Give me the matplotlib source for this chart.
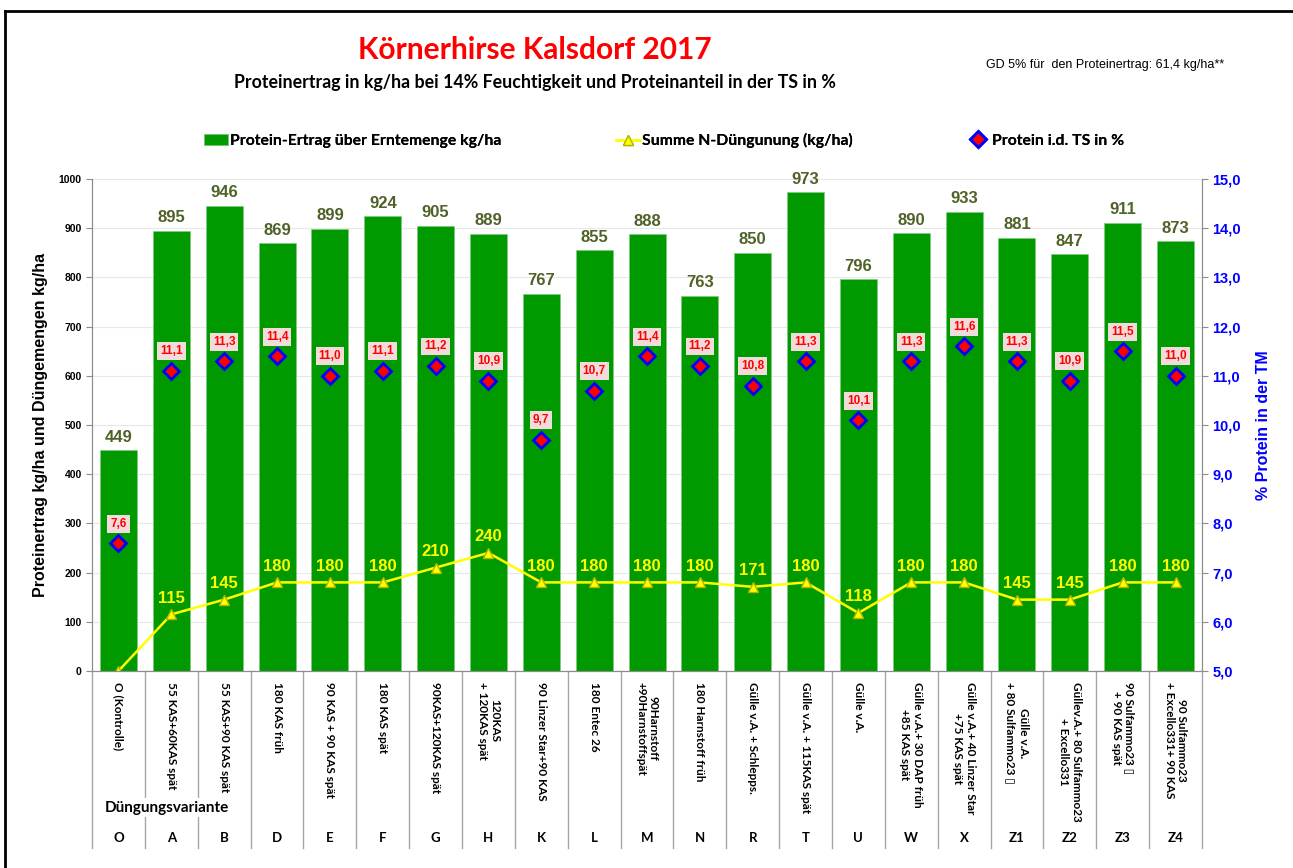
import matplotlib.pyplot as plt
import matplotlib.transforms as mtransforms
from matplotlib.lines import Line2D

# data
codes = ['O', 'A', 'B', 'D', 'E', 'F', 'G', 'H', 'K', 'L', 'M', 'N', 'R', 'T', 'U', 'W', 'X', 'Z1', 'Z2', 'Z3', 'Z4']
variants = ['O (Kontrolle)', '55 KAS+60KAS spät', '55 KAS+90 KAS spät', '180 KAS früh',
            '90 KAS + 90 KAS spät', '180 KAS spät', '90KAS+120KAS spät', '120KAS\n+ 120KAS spät',
            '90 Linzer Star+90 KAS', '180 Entec 26', '90Harnstoff\n+90Harnstoffspät',
            '180 Harnstoff früh', 'Gülle v.A. + Schlepps.', 'Gülle v.A. + 115KAS spät', 'Gülle v.A.',
            'Gülle v.A.+ 30 DAP früh\n+85 KAS spät', 'Gülle v.A.+ 40 Linzer Star\n+75 KAS spät',
            'Gülle v.A.\n+ 80 Sulfammo23 \u25af', 'Güllev.A.+ 80 Sulfammo23\n+ Excello331',
            '90 Sulfammo23 \u25af\n+ 90 KAS spät', '90 Sulfammo23\n+ Excello331+ 90 KAS']
protein_yield = [449, 895, 946, 869, 899, 924, 905, 889, 767, 855, 888, 763, 850, 973, 796, 890, 933, 881, 847, 911, 873]
n_total = [0, 115, 145, 180, 180, 180, 210, 240, 180, 180, 180, 180, 171, 180, 118, 180, 180, 145, 145, 180, 180]
protein_pct = [7.6, 11.1, 11.3, 11.4, 11.0, 11.1, 11.2, 10.9, 9.7, 10.7, 11.4, 11.2, 10.8, 11.3, 10.1, 11.3, 11.6, 11.3, 10.9, 11.5, 11.0]
legend_labels = ['Protein-Ertrag über Erntemenge kg/ha', 'Summe N-Düngunung (kg/ha)', 'Protein i.d. TS in %']

narrow = ['Lato', 'DejaVu Sans']
arial = ['Liberation Sans', 'DejaVu Sans']
plt.rcParams['font.family'] = arial

fig = plt.figure(figsize=(12.93, 8.68), dpi=100)
ax = fig.add_axes([0.0712, 0.2270, 0.8584, 0.5668])
ax2 = ax.twinx()

x = list(range(len(codes)))
bars = ax.bar(x, protein_yield, width=0.7, color='#009900', edgecolor='#7fcc7f', linewidth=0.6, zorder=2)
nline, = ax.plot(x, n_total, color='#ffff00', lw=1.8, marker='^', markersize=7,
                 markerfacecolor='#ffff00', markeredgecolor='#b5b500', zorder=3)
ax.set_xlim(-0.5, len(codes) - 0.5)
ax.set_ylim(0, 1000)
ax.set_yticks(range(0, 1001, 100))
ax.grid(axis='y', color='#e8e8e8', lw=0.8, zorder=0)
ax.set_axisbelow(True)

for i, v in enumerate(protein_yield):
    ax.annotate(str(v), (i, v), xytext=(0, 4), textcoords='offset points', ha='center', va='bottom',
                fontsize=12, fontweight='bold', color='#4f6228')
for i, v in enumerate(n_total):
    if v > 0:
        ax.annotate(str(v), (i, v), xytext=(0, 11.5), textcoords='offset points', ha='center', va='center',
                    fontsize=12, fontweight='bold', color='#ffff00')

dia, = ax2.plot(x, protein_pct, ls='none', marker='D', markersize=8.5, markerfacecolor='#ff0000',
                markeredgecolor='#0000ff', markeredgewidth=2, zorder=4)
ax2.set_ylim(5, 15)
ax2.set_yticks(range(5, 16))
ax2.set_yticklabels([f'{v:.1f}'.replace('.', ',') for v in range(5, 16)])
for i, v in enumerate(protein_pct):
    ax2.annotate(f'{v:.1f}'.replace('.', ','), (i, v), xytext=(0, 14), textcoords='offset points',
                 ha='center', va='center', fontsize=8.5, fontweight='bold', color='#ff0000',
                 bbox=dict(boxstyle='square,pad=0.25', facecolor='#f2dcdb', edgecolor='none'))

for a in (ax, ax2):
    a.spines['top'].set_visible(False)
    for s in ('left', 'right', 'bottom'):
        a.spines[s].set_color('#8c8c8c')
ax.tick_params(axis='y', colors='#8c8c8c', labelcolor='black', labelsize=7.5, length=4)
for t in ax.get_yticklabels():
    t.set_fontweight('bold')
ax2.tick_params(axis='y', colors='#8c8c8c', labelcolor='#0000ff', labelsize=10.5, length=4)
for t in ax2.get_yticklabels():
    t.set_fontweight('bold')
ax.set_xticks([])

ax.set_ylabel('Proteinertrag kg/ha und Düngemengen kg/ha', fontsize=11.5, fontweight='bold', labelpad=8)
ax2.set_ylabel('% Protein in der TM', fontsize=11.5, fontweight='bold', color='#0000ff', labelpad=11)

# category table below the axis
trans = mtransforms.blended_transform_factory(ax.transData, ax.transAxes)
for b in range(len(codes) + 1):
    ax.plot([b - 0.5, b - 0.5], [0, -0.36], transform=trans, color='#a6a6a6', lw=1, clip_on=False)
for i, lab in enumerate(variants):
    ax.text(i, -0.022, lab, transform=trans, rotation=-90, ha='center', va='top',
            multialignment='center', fontsize=8.5, fontweight='bold', family=narrow)
    ax.text(i, -0.339, codes[i], transform=trans, ha='center', va='center',
            fontsize=9.5, fontweight='bold', family=narrow)
ax.text(0.92, -0.278, 'Düngungsvariante', transform=trans, ha='center', va='center', fontsize=11,
        fontweight='bold', family=narrow, bbox=dict(facecolor='white', edgecolor='none', pad=2), zorder=5)

# titles
fig.text(0.414, 0.942, 'Körnerhirse Kalsdorf 2017', ha='center', va='center', fontsize=21.5,
         fontweight='bold', color='#ff0000', family=narrow)
fig.text(0.414, 0.905, 'Proteinertrag in kg/ha bei 14% Feuchtigkeit und Proteinanteil in der TS in %',
         ha='center', va='center', fontsize=12.8, fontweight='bold', family=narrow)
fig.text(0.855, 0.925, 'GD 5% für  den Proteinertrag: 61,4 kg/ha**', ha='center', va='center', fontsize=9)

# legend: three separate entries spread across the width
leg_x = [204 / 1293, 616 / 1293, 966 / 1293]
for handle, label, lx in zip([bars, nline, dia], legend_labels, leg_x):
    lg = fig.legend([handle], [label], loc='center left', bbox_to_anchor=(lx, 0.838),
                    frameon=False, borderpad=0, borderaxespad=0, handlelength=1.5, handletextpad=0.15,
                    prop={'family': narrow, 'weight': 'bold', 'size': 11.3})
    fig.add_artist(lg)

# outer frame
fig.add_artist(Line2D([5 / 1293, 1], [1 - 11 / 868, 1 - 11 / 868], color='black', lw=2))
fig.add_artist(Line2D([5 / 1293, 5 / 1293], [0, 1 - 11 / 868], color='black', lw=2))

fig.savefig('out.png', dpi=100)
